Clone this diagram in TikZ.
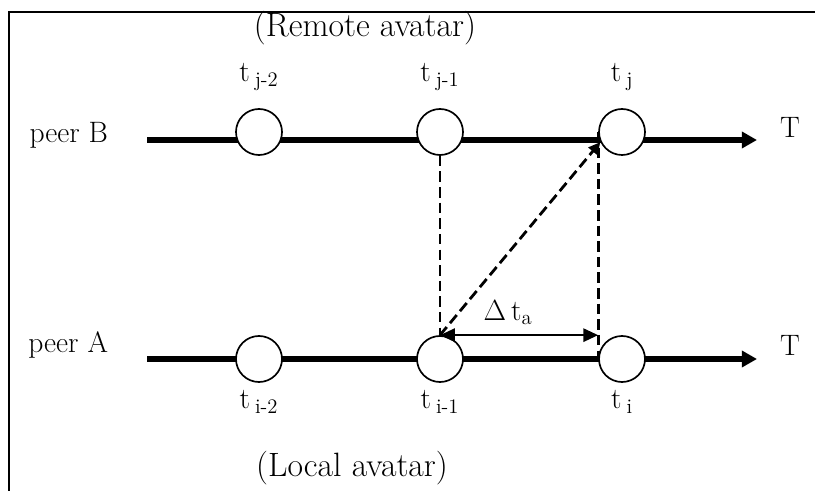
\documentclass[tikz,border=0pt]{standalone}
\usetikzlibrary{arrows.meta, positioning}

\begin{document}
\begin{tikzpicture}[
    x=0.025cm, y=-0.025cm,
    font=\fontsize{21}{25}\selectfont,
    event/.style={circle, draw, line width=1.2pt, fill=white, minimum size=1.15cm, inner sep=0pt},
    timeline/.style={line width=3.8pt, -{Triangle[length=0.38cm, width=0.4cm]}},
    guide/.style={line width=2pt, dash pattern=on 7.5pt off 3.6pt},
    span/.style={line width=1.6pt, {Triangle[length=0.37cm, width=0.33cm]}-{Triangle[length=0.37cm, width=0.33cm]}},
    stamp/.style={inner sep=1pt},
    caption/.style={font=\fontsize{24}{28}\selectfont},
]
    \useasboundingbox (0,0) rectangle (815,491);

    % frame (only top and left edges show)
    \draw[line width=1.5pt] (9,491) -- (9,12) -- (815,12);

    % time axes
    \coordinate (Bstart) at (147,140);
    \coordinate (Bend)   at (757,140);
    \coordinate (Astart) at (147,359);
    \coordinate (Aend)   at (757,359);
    \draw[timeline] (Bstart) -- (Bend);
    \draw[timeline] (Astart) -- (Aend);

    % events of peer B (remote)
    \node[event] (b1) at (259,132) {};
    \node[event] (b2) at (440,132) {};
    \node[event] (b3) at (622,132) {};

    % events of peer A (local)
    \node[event] (a1) at (259,359) {};
    \node[event] (a2) at (440,359) {};
    \node[event] (a3) at (622,359) {};

    \node[stamp, above=0.4cm of b1] (tj2) {t\,\textsubscript{j-2}};
    \node[stamp, above=0.4cm of b2] (tj1) {t\,\textsubscript{j-1}};
    \node[stamp, above=0.4cm of b3] (tj)  {t\,\textsubscript{j}};
    \node[stamp, below=0.15cm of a1] (ti2) {t\,\textsubscript{i-2}};
    \node[stamp, below=0.15cm of a2] (ti1) {t\,\textsubscript{i-1}};
    \node[stamp, below=0.15cm of a3] (ti)  {t\,\textsubscript{i}};

    \node[anchor=base east] (peerB) at (113,143) {peer B};
    \node[anchor=base east] (peerA) at (113,352) {peer A};
    \node (TB) at (790,127) {T};
    \node (TA) at (790,345) {T};

    \node[caption] (remote) at (365,28)  {(Remote avatar)};
    \node[caption] (local)  at (352,468) {(Local avatar)};

    % delay between the two peers
    \draw[guide] (b2) -- (a2);
    \draw[guide] (b3.west) -- (a3.west);
    \draw[guide, -{Triangle[length=0.3cm, width=0.28cm]}] (a2.north) -- (b3.205);
    \draw[span] (a2.north) -- (a3.west |- a2.north)
        node[pos=0.43, above=3pt] (dta) {$\Delta$\,t\textsubscript{a}};
\end{tikzpicture}
\end{document}
